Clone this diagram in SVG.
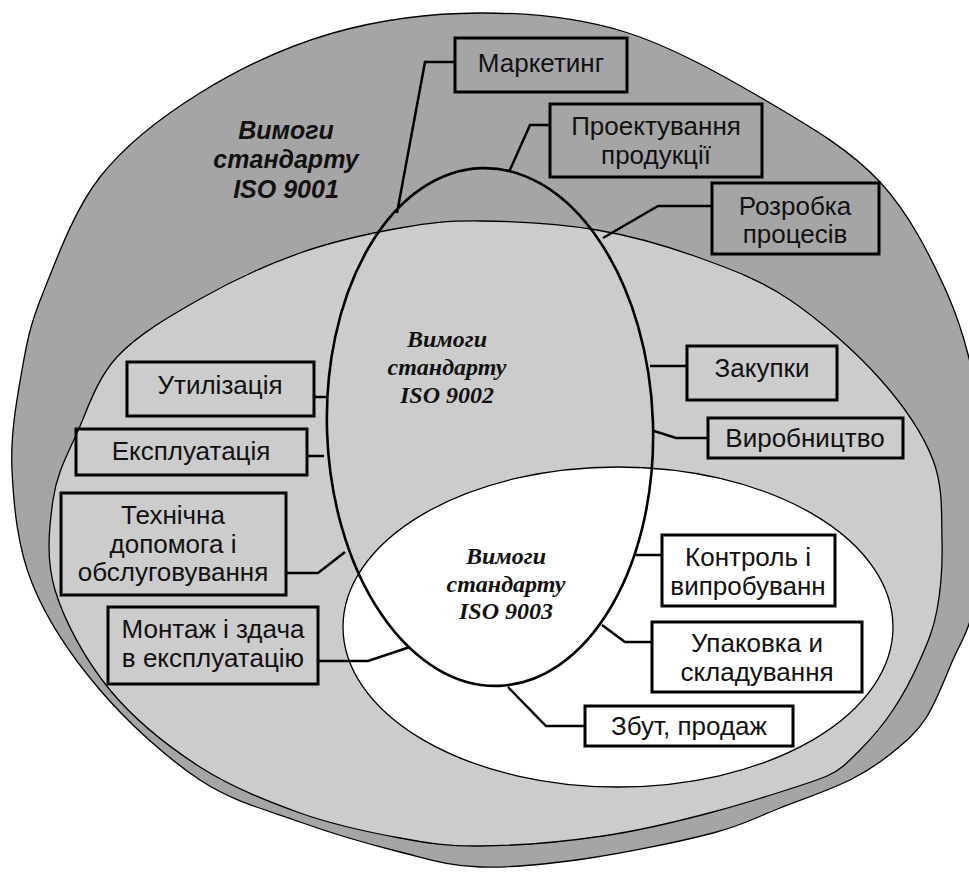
<svg xmlns="http://www.w3.org/2000/svg" width="969" height="872" viewBox="0 0 969 872">
<style>
.region{stroke:#000;stroke-width:1.3}
.box rect{fill:none;stroke:#000;stroke-width:3}
.box text{font-family:"Liberation Sans",Arial,sans-serif;font-size:26px;fill:#111;text-anchor:middle}
.conn polyline{fill:none;stroke:#000;stroke-width:2.5;stroke-linejoin:miter}
.lbl1{font-family:"Liberation Sans",Arial,sans-serif;font-size:25px;font-weight:bold;font-style:italic;fill:#111;text-anchor:middle}
.lbl2{font-family:"Liberation Serif","Times New Roman",serif;font-size:24px;font-weight:bold;font-style:italic;fill:#111;text-anchor:middle}
</style>
<rect width="969" height="872" fill="#fff"/>
<g id="iso9001">
<path class="region" fill="#a5a5a5" d="M480,13 C528.7,12.8 576.7,17 625,32 S727.5,78 770,103 S850.5,150.3 880,182 S930.7,256.7 947,293 S971.8,365.5 978,400 S984.7,465.8 984,500 S979.3,578 974,605 S960,643.2 952,662 S935.8,703 926,718 S905.7,741.7 893,752 S868.8,770.7 850,780 S802.8,799.2 780,808 S744.7,824.7 713,833 S628.8,852.3 590,858 S511.7,868 480,867 S430,859.5 400,852 S333.3,834 300,822 S233.3,802 200,780 S128,722.8 100,690 S46.7,619.7 32,583 S13.7,505.5 12,470 S16.8,399.5 22,370 S30,325.2 43,293 S73.8,210.3 100,177 S161.2,117 200,93 S286.3,46.3 333,33 S431.3,13.2 480,13 Z"/>
</g>
<g id="inner-light">
<path class="region" fill="#cccccc" d="M480,221 C512.8,221.3 560.3,223.8 597,230 S667.8,246.3 700,258 S760,279.8 790,300 S856.2,352.3 880,379 S922.7,433.2 933,460 S941.3,515 942,540 S940.7,590 937,610 S927.3,643.3 920,660 S903,695 893,710 S871,739 860,750 S841,770 827,776 S750.3,802 713,812 S641.8,830.3 603,836 S513.8,845.7 480,846 S430,843.5 400,838 S333.3,824.8 300,813 S231.7,787.5 200,767 S134.2,719.5 110,690 S64.5,621.7 55,590 S49.3,526.2 53,500 S66.3,456.8 77,433 S96.5,379.3 117,357 S169.5,316.3 200,299 S266.7,264.8 300,253 S370,233.3 400,228 S447.2,220.7 480,221 Z"/>
</g>
<g id="iso9003">
<ellipse class="region" fill="#fff" cx="618" cy="627" rx="275" ry="160"/>
</g>
<g id="iso9002">
<ellipse fill="none" stroke="#000" stroke-width="2.6" cx="490" cy="427" rx="163" ry="259" transform="rotate(-2 490 427)"/>
</g>
<g id="labels">
<text class="lbl1" x="286" y="139">Вимоги</text>
<text class="lbl1" x="286" y="168">стандарту</text>
<text class="lbl1" x="286" y="198">ISO 9001</text>
<text class="lbl2" x="447" y="347">Вимоги</text>
<text class="lbl2" x="447" y="375">стандарту</text>
<text class="lbl2" x="447" y="403">ISO 9002</text>
<text class="lbl2" x="506" y="564">Вимоги</text>
<text class="lbl2" x="506" y="592">стандарту</text>
<text class="lbl2" x="506" y="619">ISO 9003</text>
</g>
<g id="connectors" class="conn">
<polyline points="455,62 425,62 397,213"/>
<polyline points="550,125 530,125 509,172"/>
<polyline points="712,206 658,206 603,238"/>
<polyline points="314,397 327,397"/>
<polyline points="307,456 324,456"/>
<polyline points="286,573 318,573 345,552"/>
<polyline points="318,661 368,661 410,647"/>
<polyline points="687,366 650,366"/>
<polyline points="708,438 676,438 654,431"/>
<polyline points="662,555 634,555"/>
<polyline points="652,642 625,642 602,625"/>
<polyline points="585,726 546,726 508,687"/>
</g>
<g id="marketing" class="box"><rect x="455" y="38" width="172" height="54"/><text x="541" y="72">Маркетинг</text></g>
<g id="design" class="box"><rect x="550" y="104" width="212" height="73"/><text x="656" y="135">Проектування</text><text x="656" y="164">продукції</text></g>
<g id="process" class="box"><rect x="712" y="183" width="167" height="71"/><text x="795" y="215">Розробка</text><text x="795" y="243">процесів</text></g>
<g id="utilization" class="box"><rect x="127" y="362" width="187" height="54"/><text x="220" y="394">Утилізація</text></g>
<g id="operation" class="box"><rect x="76" y="429" width="231" height="46"/><text x="191" y="460">Експлуатація</text></g>
<g id="service" class="box"><rect x="61" y="493" width="225" height="102"/><text x="173" y="524">Технічна</text><text x="173" y="553">допомога і</text><text x="173" y="581">обслуговування</text></g>
<g id="install" class="box"><rect x="108" y="607" width="210" height="77"/><text x="213" y="638">Монтаж і здача</text><text x="213" y="667">в експлуатацію</text></g>
<g id="purchase" class="box"><rect x="687" y="346" width="150" height="54"/><text x="762" y="377">Закупки</text></g>
<g id="production" class="box"><rect x="708" y="418" width="195" height="40"/><text x="805" y="447">Виробництво</text></g>
<g id="control" class="box"><rect x="662" y="535" width="173" height="71"/><text x="748" y="566">Контроль і</text><text x="748" y="595">випробуванн</text></g>
<g id="packing" class="box"><rect x="652" y="622" width="210" height="70"/><text x="757" y="652">Упаковка и</text><text x="757" y="681">складування</text></g>
<g id="sales" class="box"><rect x="585" y="706" width="208" height="40"/><text x="689" y="735">Збут, продаж</text></g>
</svg>
